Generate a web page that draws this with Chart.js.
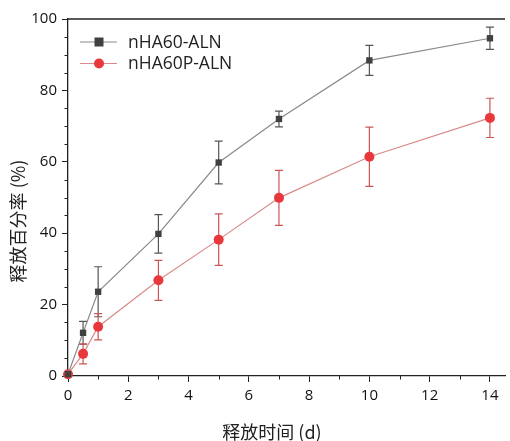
<!DOCTYPE html>
<html>
<head>
<meta charset="utf-8">
<script src="https://cdn.jsdelivr.net/npm/chart.js@4.4.1/dist/chart.umd.min.js"></script>
<style>
  html, body { margin: 0; padding: 0; background: #fff; }
  #wrap { width: 510px; height: 441px; }
</style>
</head>
<body>
<div id="wrap"><canvas id="c" width="510" height="441"></canvas></div>
<script>
// --- données ---
const days = [0, 0.5, 1, 3, 5, 7, 10, 14];
const nha60 = [0.5, 12.1, 23.6, 39.8, 59.8, 72.0, 88.4, 94.6];
const nha60Err = [0, 3.2, 7.0, 5.4, 6.0, 2.2, 4.2, 3.1];
const nha60p = [0.5, 6.2, 13.8, 26.8, 38.2, 49.9, 61.4, 72.3];
const nha60pErr = [0, 2.8, 3.7, 5.6, 7.2, 7.7, 8.3, 5.5];
const xTicks = [0, 2, 4, 6, 8, 10, 12, 14];
const yTicks = [0, 20, 40, 60, 80, 100];
const seriesNames = ['nHA60-ALN', 'nHA60P-ALN'];
const xTitle = '释放时间 (d)';
const yTitle = '释放百分率 (%)';

const FONT = '"Open Sans", "Noto Sans", sans-serif';
const CJK = '"Noto Sans CJK SC", "Open Sans", sans-serif';

const styles = [
  { line: '#8a8a8a', point: '#404040', err: '#555555', shape: 'rect', r: 4.5 },
  { line: '#d98a8a', point: '#e8383c', err: '#cc5555', shape: 'circle', r: 5 }
];
const errs = [nha60Err, nha60pErr];

// barres d'erreur (dessinées sous les lignes)
const errorBars = {
  id: 'errorBars',
  beforeDatasetsDraw(chart) {
    const { ctx, scales: { x, y } } = chart;
    ctx.save();
    chart.data.datasets.forEach((ds, i) => {
      ctx.strokeStyle = styles[i].err;
      ctx.lineWidth = 1.2;
      ds.data.forEach((p, j) => {
        const e = errs[i][j];
        if (!e) return;
        const px = x.getPixelForValue(p.x);
        const top = y.getPixelForValue(p.y + e);
        const bot = y.getPixelForValue(p.y - e);
        ctx.beginPath();
        ctx.moveTo(px, top); ctx.lineTo(px, bot);
        ctx.moveTo(px - 4, top); ctx.lineTo(px + 4, top);
        ctx.moveTo(px - 4, bot); ctx.lineTo(px + 4, bot);
        ctx.stroke();
      });
    });
    ctx.restore();
  }
};

// petites graduations, bordure haute, titres d'axes, légende
const decor = {
  id: 'decor',
  afterDraw(chart) {
    const { ctx, chartArea: a, scales: { x, y } } = chart;
    ctx.save();
    ctx.strokeStyle = '#222';
    ctx.lineWidth = 1.3;
    ctx.beginPath();
    ctx.moveTo(a.left, a.top); ctx.lineTo(a.right, a.top);
    ctx.stroke();

    ctx.lineWidth = 1;
    ctx.beginPath();
    for (let v = 1; v <= 14; v += 2) {
      const px = Math.round(x.getPixelForValue(v)) + 0.5;
      ctx.moveTo(px, a.bottom); ctx.lineTo(px, a.bottom + 3.5);
    }
    for (let v = 5; v < 100; v += 5) {
      if (v % 20 === 0) continue;
      const py = Math.round(y.getPixelForValue(v)) + 0.5;
      ctx.moveTo(a.left, py); ctx.lineTo(a.left - 3.5, py);
    }
    ctx.stroke();

    ctx.fillStyle = '#222';
    ctx.font = '18px ' + CJK;
    ctx.textAlign = 'center';
    ctx.textBaseline = 'middle';
    ctx.fillText(xTitle, 272, 432);
    ctx.save();
    ctx.translate(18, 221);
    ctx.rotate(-Math.PI / 2);
    ctx.fillText(yTitle, 0, 0);
    ctx.restore();

    // légende
    ctx.font = '17.5px ' + FONT;
    ctx.textAlign = 'left';
    seriesNames.forEach((name, i) => {
      const ly = 42 + i * 21.5;
      const s = styles[i];
      ctx.strokeStyle = s.line;
      ctx.lineWidth = 1.2;
      ctx.beginPath();
      ctx.moveTo(80, ly); ctx.lineTo(117, ly);
      ctx.stroke();
      ctx.fillStyle = s.point;
      if (s.shape === 'rect') {
        ctx.fillRect(99 - s.r, ly - s.r, s.r * 2, s.r * 2);
      } else {
        ctx.beginPath();
        ctx.arc(99, ly, s.r, 0, Math.PI * 2);
        ctx.fill();
      }
      ctx.fillStyle = '#222';
      ctx.fillText(name, 128, ly + 1);
    });
    ctx.restore();
  }
};

const mkData = (ys) => days.map((d, i) => ({ x: d, y: ys[i] }));

new Chart(document.getElementById('c'), {
  type: 'line',
  data: {
    datasets: [nha60, nha60p].map((ys, i) => ({
      label: seriesNames[i],
      data: mkData(ys),
      borderColor: styles[i].line,
      borderWidth: 1.2,
      backgroundColor: styles[i].point,
      pointBackgroundColor: styles[i].point,
      pointBorderColor: styles[i].point,
      pointBorderWidth: 0,
      pointStyle: styles[i].shape,
      pointRadius: styles[i].r,
      tension: 0,
      clip: false
    }))
  },
  options: {
    responsive: false,
    animation: false,
    events: [],
    layout: { padding: { top: 19, right: 0, left: 0, bottom: 0 } },
    plugins: { legend: { display: false }, tooltip: { enabled: false } },
    scales: {
      x: {
        type: 'linear',
        min: 0, max: 14.5,
        afterFit: (s) => { s.height = 65; },
        afterBuildTicks: (s) => { s.ticks = xTicks.map(v => ({ value: v })); },
        border: { color: '#222', width: 1.3 },
        grid: { drawOnChartArea: false, tickLength: 6, tickColor: '#222' },
        ticks: {
          padding: 5, color: '#111', autoSkip: false, maxRotation: 0,
          font: { family: FONT, size: 15 }
        }
      },
      y: {
        min: 0, max: 100,
        afterFit: (s) => { s.width = 68; },
        afterBuildTicks: (s) => { s.ticks = yTicks.map(v => ({ value: v })); },
        border: { color: '#222', width: 1.3 },
        grid: { drawOnChartArea: false, tickLength: 6, tickColor: '#222' },
        ticks: {
          padding: 5, color: '#111',
          font: { family: FONT, size: 15 }
        }
      }
    }
  },
  plugins: [errorBars, decor]
});
</script>
</body>
</html>
